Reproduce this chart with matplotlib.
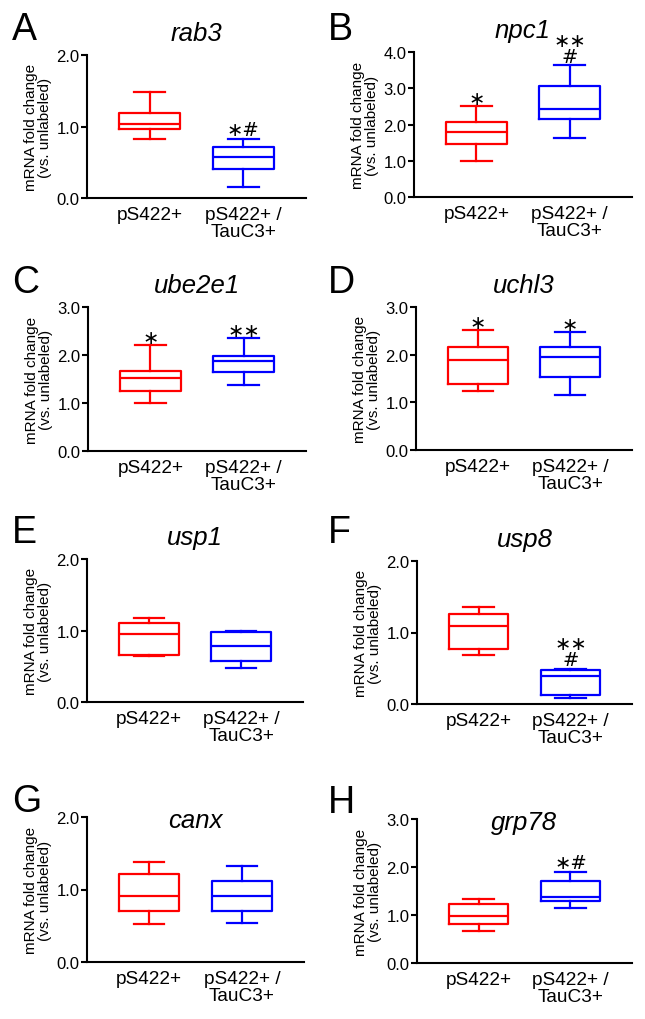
import matplotlib
matplotlib.use("Agg")
import matplotlib.pyplot as plt

plt.rcParams["font.family"] = ["Liberation Sans", "DejaVu Sans"]

groups = ["pS422+", "pS422+ /\nTauC3+"]
genes = ["rab3", "npc1", "ube2e1", "uchl3", "usp1", "usp8", "canx", "grp78"]
letters = ["A", "B", "C", "D", "E", "F", "G", "H"]
ymax = [2, 4, 3, 3, 2, 2, 2, 3]

# min, q1, median, q3, max
red_stats = [
    [0.83, 0.97, 1.03, 1.19, 1.48],
    [1.00, 1.47, 1.79, 2.07, 2.50],
    [1.00, 1.26, 1.52, 1.67, 2.20],
    [1.24, 1.39, 1.88, 2.16, 2.51],
    [0.65, 0.66, 0.95, 1.11, 1.17],
    [0.69, 0.77, 1.09, 1.26, 1.35],
    [0.53, 0.71, 0.91, 1.22, 1.38],
    [0.67, 0.81, 0.97, 1.23, 1.33],
]
blue_stats = [
    [0.15, 0.40, 0.58, 0.72, 0.83],
    [1.62, 2.14, 2.42, 3.07, 3.63],
    [1.37, 1.64, 1.87, 1.97, 2.36],
    [1.15, 1.54, 1.96, 2.16, 2.48],
    [0.47, 0.575, 0.79, 0.98, 1.00],
    [0.085, 0.12, 0.385, 0.47, 0.49],
    [0.54, 0.70, 0.91, 1.12, 1.33],
    [1.15, 1.30, 1.38, 1.70, 1.90],
]
red_marks = ["", "*", "*", "*", "", "", "", ""]
blue_marks = ["*#", "**\n#", "**", "*", "", "**\n#", "", "*#"]

# axes boxes in pixels: left, right, top, bottom
boxes_px = [
    (87, 306, 56, 199), (414, 632, 53, 198),
    (88, 306, 308, 452), (416, 632, 308, 451),
    (87, 303, 560, 703), (417, 632, 562, 705),
    (87, 304, 818, 963), (417, 632, 820, 964),
]
letter_px = [(12, 40), (328, 40), (12, 293), (328, 293),
             (12, 543), (328, 543), (12, 812), (328, 813)]

W, H = 645, 1020
fig = plt.figure(figsize=(W / 100, H / 100), dpi=100)

for i in range(8):
    l, r, t, b = boxes_px[i]
    ax = fig.add_axes([l / W, 1 - b / H, (r - l) / W, (b - t) / H])
    stats = []
    for s in (red_stats[i], blue_stats[i]):
        stats.append({"whislo": s[0], "q1": s[1], "med": s[2],
                      "q3": s[3], "whishi": s[4], "fliers": []})
    bp = ax.bxp(stats, positions=[1, 2], widths=0.65, capwidths=0.33,
                showfliers=False, patch_artist=False)
    for j, c in enumerate(["#ff0000", "#0000ff"]):
        bp["boxes"][j].set(color=c, linewidth=1.6)
        bp["medians"][j].set(color=c, linewidth=1.6)
        for k in (2 * j, 2 * j + 1):
            bp["whiskers"][k].set(color=c, linewidth=1.6)
            bp["caps"][k].set(color=c, linewidth=1.6)

    # significance marks above the top whisker
    for pos, s, m in ((1, red_stats[i], red_marks[i]), (2, blue_stats[i], blue_marks[i])):
        if not m:
            continue
        off = 2.5 if "#" in m else 1.5
        ax.annotate(m.replace("*", "\u2217"), xy=(pos, s[4]), xytext=(0, off),
                    textcoords="offset points", ha="center", va="baseline",
                    fontsize=14, family="DejaVu Sans", linespacing=0.8)

    ax.set_xlim(0.33, 2.67)
    ax.set_ylim(0, ymax[i])
    ax.set_yticks(range(ymax[i] + 1))
    ax.set_yticklabels([f"{v:.1f}" for v in range(ymax[i] + 1)], fontsize=12)
    ax.set_xticks([1, 2])
    ax.set_xticklabels(groups, fontsize=13.7, linespacing=1.0)
    ax.tick_params(axis="x", length=0, pad=6)
    ax.tick_params(axis="y", length=4, width=1.5, pad=1.5)
    for side in ("top", "right"):
        ax.spines[side].set_visible(False)
    for side in ("left", "bottom"):
        ax.spines[side].set_linewidth(1.5)
    ax.set_ylabel("mRNA fold change\n(vs. unlabeled)", fontsize=11,
                  linespacing=1.0, labelpad=3)
    if i < 6:
        ax.set_title(genes[i], fontsize=18.5, fontstyle="italic", pad=11)
    else:
        ax.set_title(genes[i], fontsize=18.5, fontstyle="italic", y=0.93, pad=0)

    lx, ly = letter_px[i]
    fig.text(lx / W, 1 - ly / H, letters[i], fontsize=27, va="baseline", ha="left")

fig.savefig("out.png", dpi=100)
